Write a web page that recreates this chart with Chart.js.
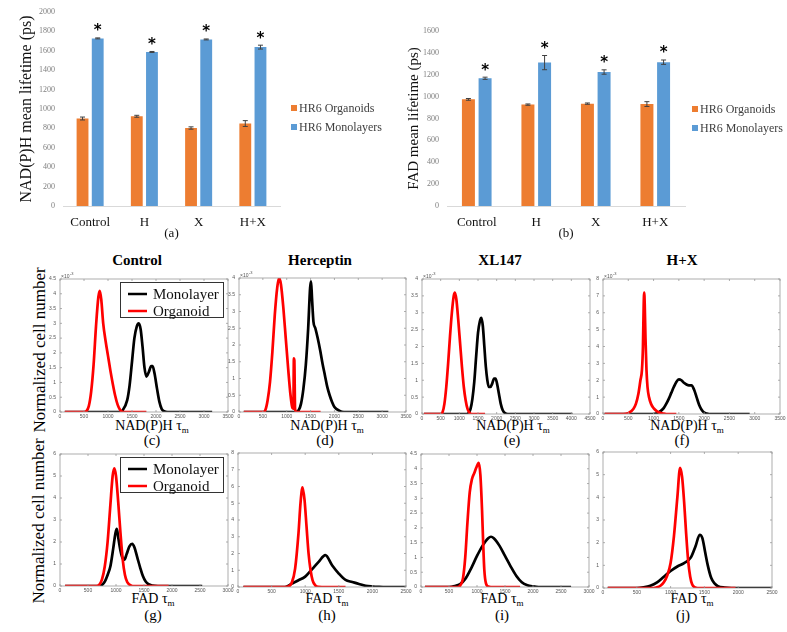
<!DOCTYPE html>
<html>
<head>
<meta charset="utf-8">
<script src="https://cdn.jsdelivr.net/npm/chart.js@4.4.0/dist/chart.umd.min.js"></script>
<style>
  body { margin: 0; background: #fff; width: 787px; height: 632px; overflow: hidden; position: relative; font-family: "Liberation Serif", serif; }
  canvas { position: absolute; }
  .t { position: absolute; white-space: nowrap; transform: translate(-50%, -50%); line-height: 1; color: #000; }
  .ttl { font-weight: bold; font-size: 15px; }
  .xl { font-size: 14px; }
  .xl sub { font-size: 9px; }
  .let { font-size: 15px; }
  .rot { font-size: 17px; transform: translate(-50%, -50%) rotate(-90deg); }
</style>
</head>
<body>

<div class="t ttl" style="left:137px;top:260px">Control</div>
<div class="t ttl" style="left:320px;top:260px">Herceptin</div>
<div class="t ttl" style="left:500px;top:260px">XL147</div>
<div class="t ttl" style="left:682px;top:260px">H+X</div>

<div class="t rot" style="left:39px;top:350px">Normalized cell number</div>
<div class="t rot" style="left:38px;top:521px">Normalized cell number</div>

<div class="t xl" style="left:152px;top:427px">NAD(P)H τ<sub>m</sub></div>
<div class="t xl" style="left:327px;top:427px">NAD(P)H τ<sub>m</sub></div>
<div class="t xl" style="left:513px;top:427px">NAD(P)H τ<sub>m</sub></div>
<div class="t xl" style="left:687px;top:427px">NAD(P)H τ<sub>m</sub></div>
<div class="t let" style="left:152px;top:440px">(c)</div>
<div class="t let" style="left:325px;top:440px">(d)</div>
<div class="t let" style="left:512px;top:440px">(e)</div>
<div class="t let" style="left:682px;top:440px">(f)</div>

<div class="t xl" style="left:153px;top:600px">FAD τ<sub>m</sub></div>
<div class="t xl" style="left:327px;top:600px">FAD τ<sub>m</sub></div>
<div class="t xl" style="left:502px;top:600px">FAD τ<sub>m</sub></div>
<div class="t xl" style="left:692px;top:600px">FAD τ<sub>m</sub></div>
<div class="t let" style="left:153px;top:615px">(g)</div>
<div class="t let" style="left:327px;top:615px">(h)</div>
<div class="t let" style="left:502px;top:615px">(i)</div>
<div class="t let" style="left:683px;top:615px">(j)</div>

<script>
// bar charts (a) and (b)
const categories = ["Control", "H", "X", "H+X"];
const nadOrganoids = [902, 925, 804, 850];
const nadOrganoidsErr = [15, 10, 12, 30];
const nadMonolayers = [1728, 1588, 1717, 1638];
const nadMonolayersErr = [5, 5, 5, 20];
const fadOrganoids = [975, 927, 936, 932];
const fadOrganoidsErr = [8, 6, 6, 22];
const fadMonolayers = [1168, 1311, 1225, 1315];
const fadMonolayersErr = [10, 65, 20, 20];

// distributions, [lifetime ps, normalized count x1e-3]
const nadCtrlMono = [[100,0],[1250,0],[1300,0.05],[1400,0.4],[1450,0.9],[1500,1.7],[1550,2.5],[1600,2.9],[1640,3.0],[1680,2.8],[1720,2.2],[1760,1.5],[1800,1.2],[1850,1.35],[1900,1.55],[1930,1.55],[1970,1.3],[2020,0.8],[2070,0.35],[2120,0.1],[2200,0.01],[2300,0],[3170,0]];
const nadCtrlOrg = [[100,0],[500,0],[550,0.03],[600,0.2],[650,0.7],[700,1.6],[750,2.9],[800,3.9],[830,4.1],[860,3.8],[900,3.0],[950,2.4],[1000,1.9],[1050,1.4],[1100,0.95],[1150,0.55],[1200,0.25],[1250,0.08],[1300,0.01],[1350,0],[1800,0]];
const nadHerMono = [[100,0],[1180,0],[1250,0.05],[1300,0.25],[1350,0.7],[1400,1.4],[1450,2.5],[1490,3.7],[1510,3.9],[1530,3.4],[1560,2.7],[1600,2.5],[1650,2.2],[1700,1.85],[1750,1.45],[1800,1.1],[1850,0.75],[1900,0.5],[1950,0.3],[2000,0.15],[2100,0.04],[2200,0],[3130,0]];
const nadHerOrg = [[100,0],[500,0],[550,0.05],[600,0.35],[650,0.9],[700,1.8],[750,2.9],[800,3.7],[840,4.0],[880,3.8],[930,3.1],[980,2.2],[1030,1.3],[1080,0.5],[1120,0.12],[1140,0.1],[1150,1.6],[1160,1.55],[1175,0.1],[1200,0],[1710,0]];
const nadXlMono = [[50,0],[1200,0],[1250,0.03],[1300,0.15],[1350,0.45],[1400,0.95],[1450,1.7],[1500,2.4],[1550,2.75],[1590,2.85],[1630,2.6],[1670,2.0],[1710,1.4],[1750,1.0],[1790,0.8],[1830,0.8],[1880,0.9],[1930,1.05],[1970,1.05],[2010,0.9],[2060,0.6],[2110,0.3],[2160,0.12],[2220,0.03],[2300,0],[4030,0]];
const nadXlOrg = [[50,0],[500,0],[550,0.05],[600,0.3],[650,0.8],[700,1.5],[750,2.3],[800,3.0],[850,3.5],[880,3.6],[920,3.4],[970,2.8],[1020,2.1],[1070,1.4],[1120,0.8],[1170,0.4],[1220,0.15],[1270,0.04],[1320,0],[1690,0]];
const nadHxMono = [[30,0],[1000,0],[1050,0.03],[1100,0.1],[1150,0.2],[1200,0.35],[1250,0.6],[1300,0.9],[1350,1.25],[1400,1.6],[1450,1.9],[1500,2.05],[1550,2.0],[1600,1.85],[1650,1.75],[1700,1.7],[1750,1.7],[1800,1.45],[1850,1.0],[1900,0.55],[1950,0.25],[2000,0.08],[2050,0.02],[2100,0],[2900,0]];
const nadHxOrg = [[30,0],[400,0],[500,0.05],[600,0.3],[650,0.6],[700,1.2],[740,2.0],[770,2.6],[790,4.0],[805,6.5],[815,7.2],[825,6.5],[840,4.5],[860,2.6],[880,1.6],[910,1.0],[950,0.6],[1000,0.35],[1050,0.2],[1100,0.1],[1200,0.02],[1250,0],[1450,0]];

const fadCtrlMono = [[90,0],[700,0],[750,0.05],[800,0.2],[850,0.5],[900,0.9],[950,1.7],[990,2.4],[1015,2.6],[1040,2.2],[1080,1.6],[1120,1.25],[1150,1.2],[1190,1.45],[1240,1.8],[1290,1.92],[1330,1.75],[1380,1.3],[1430,0.85],[1480,0.45],[1530,0.2],[1580,0.08],[1650,0.02],[1750,0],[2540,0]];
const fadCtrlOrg = [[90,0],[650,0],[700,0.05],[750,0.3],[800,0.9],[850,2.0],[900,3.7],[940,5.0],[970,5.35],[1000,5.0],[1040,3.8],[1080,2.4],[1120,1.2],[1160,0.5],[1200,0.18],[1250,0.05],[1300,0],[1940,0]];
const fadHerMono = [[80,0],[700,0],[800,0.2],[900,0.4],[1000,0.62],[1100,1.05],[1200,1.5],[1300,1.9],[1400,1.3],[1500,0.8],[1600,0.42],[1700,0.3],[1800,0.18],[1900,0.07],[2000,0.03],[2100,0.01],[2200,0],[2500,0]];
const fadHerOrg = [[80,0],[700,0],[750,0.03],[800,0.25],[850,1.1],[900,3.2],[930,5.0],[960,5.95],[990,5.2],[1020,3.6],[1050,2.0],[1080,1.0],[1110,0.4],[1150,0.1],[1200,0.01],[1250,0],[1600,0]];
const fadXlMono = [[70,0],[500,0],[600,0.03],[700,0.1],[800,0.3],[900,0.65],[1000,1.05],[1100,1.4],[1200,1.65],[1250,1.7],[1300,1.65],[1400,1.4],[1500,1.05],[1600,0.7],[1700,0.38],[1800,0.16],[1900,0.06],[2000,0.02],[2100,0],[2680,0]];
const fadXlOrg = [[70,0],[650,0],[700,0.05],[750,0.3],[790,1.0],[830,2.2],[870,3.2],[910,3.65],[950,3.85],[990,4.05],[1030,4.2],[1060,3.8],[1090,2.6],[1110,1.5],[1130,0.6],[1160,0.12],[1200,0.02],[1250,0],[1770,0]];
const fadHxMono = [[70,0],[500,0],[600,0.03],[700,0.1],[800,0.25],[900,0.5],[1000,0.75],[1100,0.95],[1200,1.1],[1300,1.35],[1370,1.85],[1430,2.35],[1470,2.2],[1510,1.6],[1550,1.0],[1600,0.45],[1650,0.2],[1700,0.08],[1800,0.02],[1900,0],[2500,0]];
const fadHxOrg = [[70,0],[750,0],[800,0.03],[850,0.1],[900,0.25],[950,0.55],[1000,1.1],[1050,2.3],[1100,4.0],[1140,5.3],[1170,4.9],[1200,3.8],[1230,2.4],[1260,1.2],[1290,0.5],[1320,0.15],[1360,0.03],[1400,0],[1960,0]];

// axis ranges (c..f) and (g..j)
const nadXMax = [3500, 3500, 4500, 3500];
const nadYMax = [4.5, 4, 4, 8];
const nadYStep = [0.5, 0.5, 0.5, 1];
const fadXMax = [3000, 2500, 3000, 2500];
const fadYMax = [6, 8, 4.5, 6];
const fadYStep = [1, 1, 0.5, 1];

const ORANGE = "#ED7D31";
const BLUE = "#5B9BD5";
const plain = (v) => String(v); // no thousands separator, no trailing .0

function makeCanvas(id, left, top, w, h) {
  const c = document.createElement("canvas");
  c.id = id;
  c.width = w;
  c.height = h;
  c.style.left = left + "px";
  c.style.top = top + "px";
  c.style.width = w + "px";
  c.style.height = h + "px";
  document.body.appendChild(c);
  return c;
}

// error bars, asterisks and the side legend for the bar charts
const barMarks = {
  id: "barMarks",
  afterDatasetsDraw(chart, args, opts) {
    const { ctx, chartArea, scales: { y } } = chart;
    ctx.save();
    chart.data.datasets.forEach((ds, i) => {
      const meta = chart.getDatasetMeta(i);
      meta.data.forEach((bar, j) => {
        const top = y.getPixelForValue(ds.data[j] + ds.errors[j]);
        const bot = y.getPixelForValue(ds.data[j] - ds.errors[j]);
        ctx.strokeStyle = "#404040";
        ctx.lineWidth = 1;
        ctx.beginPath();
        ctx.moveTo(bar.x, top); ctx.lineTo(bar.x, bot);
        ctx.moveTo(bar.x - 2.5, top); ctx.lineTo(bar.x + 2.5, top);
        ctx.moveTo(bar.x - 2.5, bot); ctx.lineTo(bar.x + 2.5, bot);
        ctx.stroke();
        if (ds.star) {
          ctx.font = "bold 15px 'DejaVu Sans'";
          ctx.textAlign = "center";
          ctx.textBaseline = "alphabetic";
          ctx.fillStyle = "#000";
          ctx.fillText("*", bar.x, top - 2.5);
        }
      });
    });
    // legend at the right
    const lx = chartArea.right + opts.offset;
    chart.data.datasets.forEach((ds, i) => {
      const ly = opts.y0 + i * opts.gap;
      ctx.fillStyle = ds.backgroundColor;
      ctx.fillRect(lx, ly - 3, 6, 6);
      ctx.fillStyle = "#404040";
      ctx.font = "12px 'Liberation Serif'";
      ctx.textAlign = "left";
      ctx.textBaseline = "middle";
      ctx.fillText(ds.label, lx + 8, ly + 0.5);
    });
    ctx.restore();
  }
};

function barChart(id, left, w, org, orgErr, mono, monoErr, yMax, yTitle, titleSize, letter, padL, yW, padT, padR, legend) {
  const H = 245;
  const canvas = makeCanvas(id, left, 0, w, H);
  new Chart(canvas, {
    type: "bar",
    data: {
      labels: categories,
      datasets: [
        { label: "HR6 Organoids", data: org, errors: orgErr, backgroundColor: ORANGE },
        { label: "HR6 Monolayers", data: mono, errors: monoErr, backgroundColor: BLUE, star: true }
      ]
    },
    options: {
      responsive: false,
      animation: false,
      categoryPercentage: 0.56,
      barPercentage: 0.78,
      layout: { padding: { left: padL, top: padT, right: padR, bottom: 0 } },
      scales: {
        x: {
          grid: { display: false, drawTicks: false },
          border: { display: true, color: "#D9D9D9", width: 1 },
          ticks: { color: "#111", font: { family: "Liberation Serif", size: 13 }, padding: 9 },
          title: { display: true, text: letter, color: "#111", font: { family: "Liberation Serif", size: 13 }, padding: { top: 0, bottom: 4 } },
          afterFit: (s) => { s.height = 39; s.paddingLeft = 0; s.paddingRight = 0; }
        },
        y: {
          min: 0,
          max: yMax,
          grid: { display: false, drawTicks: false },
          border: { display: false },
          ticks: { stepSize: 200, callback: plain, color: "#7F7F7F", font: { family: "Liberation Serif", size: 8 }, padding: 8 },
          title: { display: true, text: yTitle, color: "#111", font: { family: "Liberation Serif", size: titleSize } },
          afterFit: (s) => { s.width = yW; s.paddingTop = 0; s.paddingBottom = 0; }
        }
      },
      plugins: {
        legend: { display: false },
        tooltip: { enabled: false },
        barMarks: legend
      }
    },
    plugins: [barMarks]
  });
}

barChart("barA", 0, 390, nadOrganoids, nadOrganoidsErr, nadMonolayers, nadMonolayersErr, 2000,
  "NAD(P)H mean lifetime (ps)", 16, "(a)", 13, 50, 12, 110, { offset: 11, y0: 108, gap: 19 });
barChart("barB", 380, 407, fadOrganoids, fadOrganoidsErr, fadMonolayers, fadMonolayersErr, 1600,
  "FAD mean lifetime (ps)", 15, "(b)", 21, 46, 31, 102, { offset: 7, y0: 109, gap: 19 });

// MATLAB-like box, inner ticks, exponent and legend
const boxAxes = {
  id: "boxAxes",
  afterDatasetsDraw(chart, args, opts) {
    const { ctx, chartArea: a, scales: { x, y } } = chart;
    ctx.save();
    ctx.strokeStyle = "#9a9a9a";
    ctx.lineWidth = 0.8;
    ctx.strokeRect(a.left, a.top, a.right - a.left, a.bottom - a.top);
    ctx.beginPath();
    x.ticks.forEach((t) => {
      const px = x.getPixelForValue(t.value);
      ctx.moveTo(px, a.bottom); ctx.lineTo(px, a.bottom - 2);
      ctx.moveTo(px, a.top); ctx.lineTo(px, a.top + 2);
    });
    y.ticks.forEach((t) => {
      const py = y.getPixelForValue(t.value);
      ctx.moveTo(a.left, py); ctx.lineTo(a.left + 2, py);
      ctx.moveTo(a.right, py); ctx.lineTo(a.right - 2, py);
    });
    ctx.stroke();
    if (opts.expo) {
      ctx.fillStyle = "#555";
      ctx.textAlign = "left";
      ctx.textBaseline = "alphabetic";
      ctx.font = "5px 'Liberation Sans'";
      ctx.fillText("\u00d710", a.left + 1, a.top - 1.5);
      const w = ctx.measureText("\u00d710").width;
      ctx.font = "4px 'Liberation Sans'";
      ctx.fillText("-3", a.left + 1.5 + w, a.top - 4);
    }
    if (opts.legend) {
      const bw = 103, bh = 35;
      const bx = a.right - 5 - bw, by = a.top + 3;
      ctx.fillStyle = "#fff";
      ctx.fillRect(bx, by, bw, bh);
      ctx.strokeStyle = "#333";
      ctx.lineWidth = 1;
      ctx.strokeRect(bx + 0.5, by + 0.5, bw, bh);
      chart.data.datasets.forEach((ds, i) => {
        const ly = by + 12 + i * 17;
        ctx.strokeStyle = ds.borderColor;
        ctx.lineWidth = 2.5;
        ctx.beginPath();
        ctx.moveTo(bx + 8, ly); ctx.lineTo(bx + 27, ly);
        ctx.stroke();
        ctx.fillStyle = "#111";
        ctx.font = "15px 'Liberation Serif'";
        ctx.textBaseline = "middle";
        ctx.fillText(ds.label, bx + 33, ly + 1);
      });
    }
    ctx.restore();
  }
};

const panelAreas = {
  c: [60, 279, 228, 412], d: [239, 278, 406, 412], e: [422, 279, 590, 414], f: [603, 279, 780, 414],
  g: [60, 454, 228, 586], h: [238, 453, 406, 587], i: [421, 454, 589, 587], j: [603, 452, 772, 588]
};

const toPts = (arr) => arr.map((p) => ({ x: p[0], y: p[1] }));

function distChart(key, xMax, yMax, yStep, mono, org, showLegend, showExpo) {
  const [l, t, r, b] = panelAreas[key];
  const padL = 18, padT = 10, padR = 8, padB = 10;
  const canvas = makeCanvas("p" + key, l - padL, t - padT, r - l + padL + padR, b - t + padT + padB);
  const tickFont = { family: "Liberation Sans", size: 5 };
  new Chart(canvas, {
    type: "line",
    data: {
      datasets: [
        { label: "Monolayer", data: toPts(mono), borderColor: "#000", order: 1 },
        { label: "Organoid", data: toPts(org), borderColor: "#ff0000", order: 0 }
      ]
    },
    options: {
      responsive: false,
      animation: false,
      layout: { padding: { left: 0, top: padT, right: padR, bottom: 0 } },
      elements: {
        point: { radius: 0 },
        line: { borderWidth: 2.7, cubicInterpolationMode: "monotone", fill: false }
      },
      scales: {
        x: {
          type: "linear", min: 0, max: xMax,
          grid: { display: false, drawTicks: false }, border: { display: false },
          ticks: { stepSize: 500, callback: plain, autoSkip: false, maxRotation: 0, padding: 2, font: tickFont, color: "#555" },
          afterFit: (s) => { s.height = padB; s.paddingLeft = 0; s.paddingRight = 0; }
        },
        y: {
          min: 0, max: yMax,
          grid: { display: false, drawTicks: false }, border: { display: false },
          ticks: { stepSize: yStep, callback: plain, autoSkip: false, padding: 4, font: tickFont, color: "#555" },
          afterFit: (s) => { s.width = padL; s.paddingTop = 0; s.paddingBottom = 0; }
        }
      },
      plugins: {
        legend: { display: false },
        tooltip: { enabled: false },
        boxAxes: { legend: showLegend, expo: showExpo }
      }
    },
    plugins: [boxAxes]
  });
}

distChart("c", nadXMax[0], nadYMax[0], nadYStep[0], nadCtrlMono, nadCtrlOrg, true, true);
distChart("d", nadXMax[1], nadYMax[1], nadYStep[1], nadHerMono, nadHerOrg, false, true);
distChart("e", nadXMax[2], nadYMax[2], nadYStep[2], nadXlMono, nadXlOrg, false, true);
distChart("f", nadXMax[3], nadYMax[3], nadYStep[3], nadHxMono, nadHxOrg, false, true);
distChart("g", fadXMax[0], fadYMax[0], fadYStep[0], fadCtrlMono, fadCtrlOrg, true, false);
distChart("h", fadXMax[1], fadYMax[1], fadYStep[1], fadHerMono, fadHerOrg, false, false);
distChart("i", fadXMax[2], fadYMax[2], fadYStep[2], fadXlMono, fadXlOrg, false, false);
distChart("j", fadXMax[3], fadYMax[3], fadYStep[3], fadHxMono, fadHxOrg, false, false);
</script>
</body>
</html>
